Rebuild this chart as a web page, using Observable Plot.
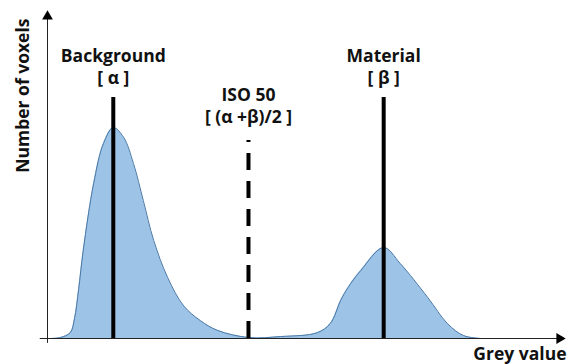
<!DOCTYPE html>
<html>
<head>
<meta charset="utf-8">
<script src="https://cdn.jsdelivr.net/npm/d3@7"></script>
<script src="https://cdn.jsdelivr.net/npm/@observablehq/plot@0.6"></script>
<style>
  html, body { margin: 0; padding: 0; background: #fff; }
  svg { display: block; }
</style>
</head>
<body>
<div id="chart"></div>
<script>
// Histogram outline (grey value, number of voxels), arbitrary units 0..100
const greyValues = [0.6, 2.5, 4.4, 5.2, 6.0, 6.9, 8.9, 10.8, 12.7, 14.7, 16.6, 18.5, 20.5, 23.2, 26.3, 29.5, 32.8, 38.8, 45.0, 52.1, 54.6, 56.6, 58.0, 60.5, 64.9, 68.1, 73.4, 77.2, 80.3, 83.6];
const voxelCounts = [0, 0.3, 1.8, 6.0, 15, 27, 47.5, 59.8, 64.7, 61.7, 53.7, 42.3, 30.1, 18.7, 10.0, 5.5, 2.5, 0.3, 0.6, 1.8, 4.6, 11.7, 15.6, 20.9, 27.9, 23.0, 12.6, 4.6, 0.9, 0];

// Reference lines
const lineNames = ["Background", "ISO 50", "Material"];
const linePositions = [12.7, 38.8, 64.9];
const lineTops = [73.9, 60.7, 73.9];
const lineDashed = [false, true, false];

// Labels (two lines each)
const labelTexts = ["Background\n[ α ]", "ISO 50\n[ (α +β)/2 ]", "Material\n[ β ]"];
const labelX = [12.7, 38.8, 64.9];
const labelY = [83.5, 71.6, 83.5];

const xTitle = "Grey value";
const yTitle = "Number of voxels";

const curve = greyValues.map((g, i) => ({x: g, y: voxelCounts[i]}));
const lines = lineNames.map((n, i) => ({name: n, x: linePositions[i], top: lineTops[i], dashed: lineDashed[i]}));
const labels = labelTexts.map((t, i) => ({text: t, x: labelX[i], y: labelY[i]}));

const font = "'Open Sans', sans-serif";
const fs = 17.5;

const chart = Plot.plot({
  width: 567,
  height: 364,
  marginTop: 12,
  marginBottom: 26,
  marginLeft: 47,
  marginRight: 2,
  x: {domain: [0, 100], axis: null},
  y: {domain: [0, 100], axis: null},
  style: {fontFamily: font, background: "#fff"},
  marks: [
    Plot.areaY(curve, {x: "x", y: "y", fill: "#9dc3e6", curve: "catmull-rom"}),
    Plot.lineY(curve, {x: "x", y: "y", stroke: "#4a78a6", strokeWidth: 1, curve: "catmull-rom"}),
    // axes
    Plot.ruleY([0], {x1: -1.4, x2: 100, stroke: "#222", strokeWidth: 1}),
    Plot.ruleX([0], {y1: -1.5, y2: 100, stroke: "#222", strokeWidth: 1}),
    Plot.dot([{x: 100, y: 0}], {x: "x", y: "y", symbol: "triangle", r: 4, fill: "#000", stroke: null, rotate: 90, dx: -6}),
    Plot.dot([{x: 0, y: 100}], {x: "x", y: "y", symbol: "triangle", r: 4, fill: "#000", stroke: null, dy: 4}),
    // reference lines
    Plot.ruleX(lines.filter(d => !d.dashed), {x: "x", y1: 0, y2: "top", stroke: "#000", strokeWidth: 4}),
    Plot.ruleX(lines.filter(d => d.dashed), {x: "x", y1: 0, y2: "top", stroke: "#000", strokeWidth: 4, strokeDasharray: "17,11"}),
    // labels
    Plot.text(labels, {x: "x", y: "y", text: "text", fontSize: fs, fontWeight: "bold", fill: "#111", lineAnchor: "middle", lineHeight: 1.25}),
    Plot.text([xTitle], {frameAnchor: "bottom-right", text: d => d, fontSize: fs, fontWeight: "bold", fill: "#111", textAnchor: "end", lineAnchor: "middle", dy: 16, dx: 1}),
    Plot.text([yTitle], {frameAnchor: "top-left", text: d => d, fontSize: fs, fontWeight: "bold", fill: "#111", rotate: -90, textAnchor: "end", lineAnchor: "middle", dx: -24, dy: 6})
  ]
});
document.getElementById("chart").appendChild(chart);
</script>
</body>
</html>
